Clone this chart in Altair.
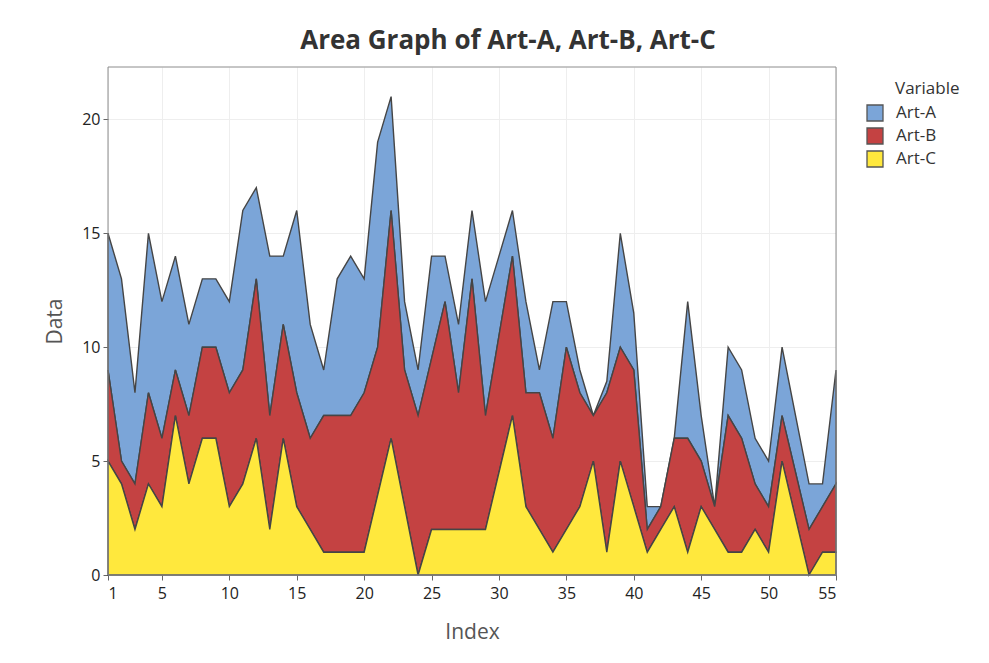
import altair as alt
import pandas as pd

# ---- data ----
index = list(range(1, 56))
art_a = [6, 8, 4, 7, 6, 5, 4, 3, 3, 4,
         7, 4, 7, 3, 8, 5, 2, 6, 7, 5,
         9, 5, 3, 2, 4.5, 2, 3, 3, 5, 3.5,
         2, 4, 1, 6, 2, 1, 0, 0.5, 5, 2.5,
         1, 0, 0, 6, 2, 0, 3, 3, 2, 2,
         3, 2.5, 2, 1, 5]
art_b = [4, 1, 2, 4, 3, 2, 3, 4, 4, 5,
         5, 7, 5, 5, 5, 4, 6, 6, 6, 7,
         6.5, 10, 6, 7, 7.5, 10, 6, 11, 5, 6,
         7, 5, 6, 5, 8, 5, 2, 7, 5, 6,
         1, 1, 3, 5, 2, 1, 6, 5, 2, 2,
         2, 2, 2, 2, 3]
art_c = [5, 4, 2, 4, 3, 7, 4, 6, 6, 3,
         4, 6, 2, 6, 3, 2, 1, 1, 1, 1,
         3.5, 6, 3, 0, 2, 2, 2, 2, 2, 4.5,
         7, 3, 2, 1, 2, 3, 5, 1, 5, 3,
         1, 2, 3, 1, 3, 2, 1, 1, 2, 1,
         5, 2.5, 0, 1, 1]
variables = ["Art-A", "Art-B", "Art-C"]
colors = ["#7BA5D8", "#C44242", "#FFE83D"]
x_ticks = [1, 5, 10, 15, 20, 25, 30, 35, 40, 45, 50, 55]
y_ticks = [0, 5, 10, 15, 20]

rows = []
for name, vals, order in [("Art-A", art_a, 2), ("Art-B", art_b, 1), ("Art-C", art_c, 0)]:
    for i, v in zip(index, vals):
        rows.append({"Index": i, "Variable": name, "Data": v, "stack_order": order})
df = pd.DataFrame(rows)

FONT = "Open Sans"
W, H = 728, 508

area = alt.Chart(df).mark_area(stroke="#454545", strokeWidth=1.4, opacity=1).encode(
    x=alt.X("Index:Q",
            scale=alt.Scale(domain=[1, 55], nice=False, zero=False),
            axis=alt.Axis(values=x_ticks, title="Index", grid=True)),
    y=alt.Y("Data:Q", stack="zero",
            scale=alt.Scale(domain=[0, 22.3], nice=False),
            axis=alt.Axis(values=y_ticks, title="Data", grid=True)),
    color=alt.Color("Variable:N",
                    scale=alt.Scale(domain=variables, range=colors),
                    legend=alt.Legend(title=None, orient="none", legendX=758, legendY=37,
                                      symbolType="square", symbolSize=256,
                                      symbolStrokeColor="#555555", symbolStrokeWidth=1.3,
                                      symbolOpacity=1,
                                      labelFontSize=17, labelFont=FONT, labelColor="#333333",
                                      labelOffset=12, rowPadding=1, padding=0)),
    order=alt.Order("stack_order:Q", sort="ascending"),
)

frame = alt.Chart(pd.DataFrame({"f": [0]})).mark_rect(
    fill="transparent", stroke="#8c8c8c", strokeWidth=1
).encode(x=alt.value(0), x2=alt.value(W), y=alt.value(0), y2=alt.value(H))

legend_title = alt.Chart(pd.DataFrame({"t": ["Variable"]})).mark_text(
    align="left", baseline="middle", fontSize=17, font=FONT, color="#333333"
).encode(x=alt.value(787), y=alt.value(22), text="t:N")

chart = alt.layer(area, frame, legend_title).properties(
    width=W, height=H,
    title=alt.TitleParams("Area Graph of Art-A, Art-B, Art-C", fontSize=26, fontWeight="bold",
                          font=FONT, color="#333333", anchor="middle", dx=36, offset=13),
    autosize=alt.AutoSizeParams(type="none"),
    padding={"left": 100, "top": 59, "right": 145, "bottom": 80},
).configure_view(
    stroke=None
).configure_axis(
    domain=False, gridColor="#EEEEEE", gridWidth=1,
    tickColor="#666666", tickSize=5,
    labelFont=FONT, labelFontSize=16, labelColor="#222222",
    titleFont=FONT, titleFontSize=21, titleFontWeight="normal", titleColor="#555555",
).configure_axisX(labelPadding=5, titlePadding=20).configure_axisY(labelPadding=3, titlePadding=16)

chart.save("out.html", embed_options={"renderer": "svg", "actions": False})
